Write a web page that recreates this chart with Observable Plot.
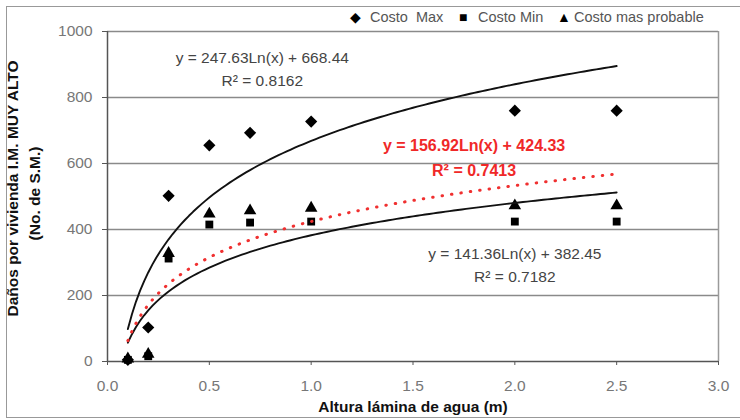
<!DOCTYPE html>
<html>
<head>
<meta charset="utf-8">
<script src="https://cdn.jsdelivr.net/npm/d3@7"></script>
<script src="https://cdn.jsdelivr.net/npm/@observablehq/plot@0.6"></script>
<style>
  html, body { margin: 0; padding: 0; background: #fff; }
  #wrap { position: relative; width: 740px; height: 420px; overflow: hidden; font-family: "Liberation Sans", Arial, sans-serif; }
  #frame { position: absolute; left: 6px; top: 6px; width: 760px; height: 412px; border: 1.5px solid #999; box-sizing: border-box; }
  #legend { position: absolute; top: 0; left: 0; font-size: 14.5px; color: #555; white-space: pre; }
  #legend span { position: absolute; top: 9px; }
  #legend span.s { color: #000; font-size: 14px; top: 9px; }
  #chart { position: absolute; left: 0; top: 0; }
</style>
</head>
<body>
<div id="wrap">
  <div id="frame"></div>
  <div id="chart"></div>
  <div id="legend"></div>
</div>
<script>
// Data
const alturas = [0.1, 0.2, 0.3, 0.5, 0.7, 1.0, 2.0, 2.5];
const costoMax = [5, 103, 502, 655, 693, 727, 760, 760];
const costoMin = [5, 16, 312, 415, 421, 424, 424, 424];
const costoProbable = [8, 22, 328, 447, 457, 465, 472, 472];

const seriesNames = ["Costo  Max", "Costo Min", "Costo mas probable"];
const seriesSymbols = ["diamond2", "square2", "triangle2"];
const legendGlyphs = ["◆", "■", "▲"];

// Trend lines shown on the chart: y = a Ln(x) + b
const trendA = [247.63, 141.36, 156.92];
const trendB = [668.44, 382.45, 424.33];
const trendR2 = ["0.8162", "0.7182", "0.7413"];

const xTicks = [0, 0.5, 1.0, 1.5, 2.0, 2.5, 3.0];
const yTicks = [0, 200, 400, 600, 800, 1000];

// Build tables
const points = [];
[costoMax, costoMin, costoProbable].forEach((vals, s) => {
  vals.forEach((v, i) => points.push({x: alturas[i], y: v, s}));
});

const xs = d3.range(0.1, 2.5001, 0.02);
const curves = [0, 1, 2].map(k => xs.map(x => ({x, y: trendA[k] * Math.log(x) + trendB[k]})));

const eqText = k => `y = ${trendA[k]}Ln(x) + ${trendB[k]}`;
const labels = [
  {x: 0.76, y: 921, t: eqText(0), red: false},
  {x: 0.76, y: 849, t: `R² = ${trendR2[0]}`, red: false},
  {x: 2.0, y: 327, t: eqText(1), red: false},
  {x: 2.0, y: 255, t: `R² = ${trendR2[1]}`, red: false},
  {x: 1.80, y: 654, t: eqText(2), red: true},
  {x: 1.80, y: 578, t: `R² = ${trendR2[2]}`, red: true}
];

const chart = Plot.plot({
  width: 740,
  height: 420,
  marginLeft: 107,
  marginRight: 22,
  marginTop: 31,
  marginBottom: 59,
  style: {fontFamily: "'Liberation Sans', Arial, sans-serif", background: "transparent", overflow: "visible"},
  x: {domain: [0, 3], ticks: xTicks, tickFormat: d3.format(".1f")},
  y: {domain: [0, 1000], ticks: yTicks},
  marks: [
    Plot.ruleY(yTicks.filter(d => d > 0), {stroke: "#8a8a8a", strokeWidth: 1.5}),
    Plot.ruleX([3], {stroke: "#9a9a9a", strokeWidth: 1.5}),
    Plot.ruleX([0], {stroke: "#555", strokeWidth: 1.5}),
    Plot.ruleY([0], {stroke: "#555", strokeWidth: 1.5}),
    Plot.axisX({ticks: xTicks, tickFormat: d3.format(".1f"), tickSize: 4, tickPadding: 14, fontSize: 15.5, color: "#777", stroke: "#555", label: null}),
    Plot.axisY({ticks: yTicks, tickFormat: d3.format("d"), tickSize: 5, tickPadding: 10, fontSize: 15.5, color: "#777", stroke: "#555", label: null}),
    Plot.dot(points.filter(d => d.s === 0), {x: "x", y: "y", symbol: () => seriesSymbols[0], fill: "#000", r: 5.5}),
    Plot.dot(points.filter(d => d.s === 2), {x: "x", y: "y", symbol: () => seriesSymbols[2], fill: "#000", r: 6}),
    Plot.dot(points.filter(d => d.s === 1), {x: "x", y: "y", symbol: () => seriesSymbols[1], fill: "#000", r: 5}),
    Plot.line(curves[0], {x: "x", y: "y", stroke: "#111", strokeWidth: 1.9}),
    Plot.line(curves[1], {x: "x", y: "y", stroke: "#111", strokeWidth: 1.9}),
    Plot.line(curves[2], {x: "x", y: "y", stroke: "#f03030", strokeWidth: 3, strokeDasharray: "0.5,9", strokeLinecap: "round"}),
    Plot.text(labels.filter(d => !d.red), {x: "x", y: "y", text: "t", fontSize: 15.5, fill: "#444"}),
    Plot.text(labels.filter(d => d.red), {x: "x", y: "y", text: "t", fontSize: 16, fontWeight: "bold", fill: "#f02828"}),
    Plot.text(["Altura lámina de agua (m)"], {frameAnchor: "bottom", dy: 50, fontSize: 15.5, fontWeight: "bold", fill: "#111"}),
    Plot.text(["Daños por vivienda I.M. MUY ALTO"], {frameAnchor: "left", textAnchor: "middle", dx: -94, dy: -8, rotate: -90, fontSize: 15.5, fontWeight: "bold", fill: "#111"}),
    Plot.text(["(No. de S.M.)"], {frameAnchor: "left", textAnchor: "middle", dx: -72, dy: -3, rotate: -90, fontSize: 15.5, fontWeight: "bold", fill: "#111"})
  ]
});
document.getElementById("chart").appendChild(chart);

const legend = document.getElementById("legend");
const glyphLeft = [350, 459, 557];
const textLeft = [370, 478, 574];
seriesNames.forEach((n, i) => {
  const s = document.createElement("span");
  s.className = "s";
  s.textContent = legendGlyphs[i];
  s.style.left = glyphLeft[i] + "px";
  const t = document.createElement("span");
  t.textContent = n;
  t.style.left = textLeft[i] + "px";
  legend.appendChild(s);
  legend.appendChild(t);
});
</script>
</body>
</html>
